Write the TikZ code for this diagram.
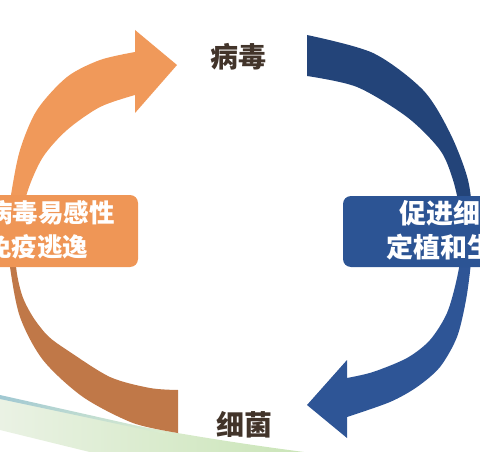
\documentclass[tikz,border=0pt]{standalone}
\usepackage{fontspec}
\newfontfamily\cjk{Noto Sans CJK SC}
\definecolor{bluetop}{RGB}{35,68,121}
\definecolor{bluebot}{RGB}{46,85,150}
\definecolor{orgtop}{RGB}{240,153,90}
\definecolor{orgbot}{RGB}{192,120,72}
\definecolor{orgbox}{RGB}{239,150,86}
\definecolor{bluebox}{RGB}{44,84,148}
\definecolor{labelc}{RGB}{66,52,42}
\definecolor{bandL}{RGB}{234,242,228}
\definecolor{bandR}{RGB}{198,227,178}
\definecolor{tealline}{RGB}{160,200,210}
\def\bluearc{plot[smooth] coordinates {(307,35) (373,53) (423,90) (450,133) (468,180) (473,225) (471,262) (466,300) (457,337) (440,367) (417,387) (390,402) (347,417)} -- (347,438) -- (307,405) -- (347,360) -- plot[smooth] coordinates {(347,378) (373,372) (407,358) (430,340) (447,313) (457,278) (462,245) (460,212) (453,180) (440,150) (407,117) (357,87) (307,76)} -- cycle}
\def\orangearc{plot[smooth] coordinates {(178,433) (133,423) (83,397) (43,360) (20,317) (10,267) (7,230) (11,195) (20,150) (37,110) (67,77) (100,60) (135,52)} -- (135,30) -- (177,65) -- (135,113) -- plot[smooth] coordinates {(135,95) (100,107) (67,130) (43,157) (28,190) (19,228) (16,265) (22,295) (33,317) (48,336) (67,350) (110,377) (150,388) (178,390)} -- cycle}
\begin{document}
\begin{tikzpicture}[x=1pt,y=-1pt,
  boxtxt/.style={text=white, inner sep=0pt, anchor=base west},
  lbl/.style={text=labelc, inner sep=0pt, anchor=base, font=\cjk\bfseries\fontsize{28}{32}\selectfont},
  panel/.style={rounded corners=8pt, inner sep=0pt, draw=none}]
\useasboundingbox (0,0) rectangle (480,452);
% decorative band
\shade[left color=bandL, right color=bandR] (0,398) .. controls (120,425) and (240,445) .. (345,457) -- (110,457) -- (0,430) -- cycle;
\shade[left color=tealline, right color=bandR!60!white] (0,395) -- (165,432) -- (165,434) -- (0,399) -- cycle;
% blue arrow
\begin{scope}\clip (0,0) rectangle (480,231); \fill[bluetop] \bluearc; \end{scope}
\begin{scope}\clip (0,231) rectangle (480,452); \fill[bluebot] \bluearc; \end{scope}
% orange arrow
\begin{scope}\clip (0,0) rectangle (480,231); \fill[orgtop] \orangearc; \end{scope}
\begin{scope}\clip (0,231) rectangle (480,452); \fill[orgbot] \orangearc; \end{scope}
% panels
\node[panel, fill=orgbox, minimum width=168pt, minimum height=72pt] (obox) at (54,231) {};
\node[panel, fill=bluebox, minimum width=160pt, minimum height=71pt] (bbox) at (423,231.5) {};
\node[boxtxt, font=\cjk\bfseries\fontsize{25.5}{30}\selectfont] (o1) at (-13,222.8) {病毒易感性};
\node[boxtxt, font=\cjk\bfseries\fontsize{25.5}{30}\selectfont] (o2) at (-14,256) {免疫逃逸};
\node[boxtxt, font=\cjk\bfseries\fontsize{27}{30}\selectfont] (b1) at (399,223) {促进细};
\node[boxtxt, font=\cjk\bfseries\fontsize{27}{30}\selectfont] (b2) at (386,257.5) {定植和生};
% labels
\node[lbl] (virus) at (238.5,68) {病毒};
\node[lbl] (bact) at (244.5,435) {细菌};
\end{tikzpicture}
\end{document}
